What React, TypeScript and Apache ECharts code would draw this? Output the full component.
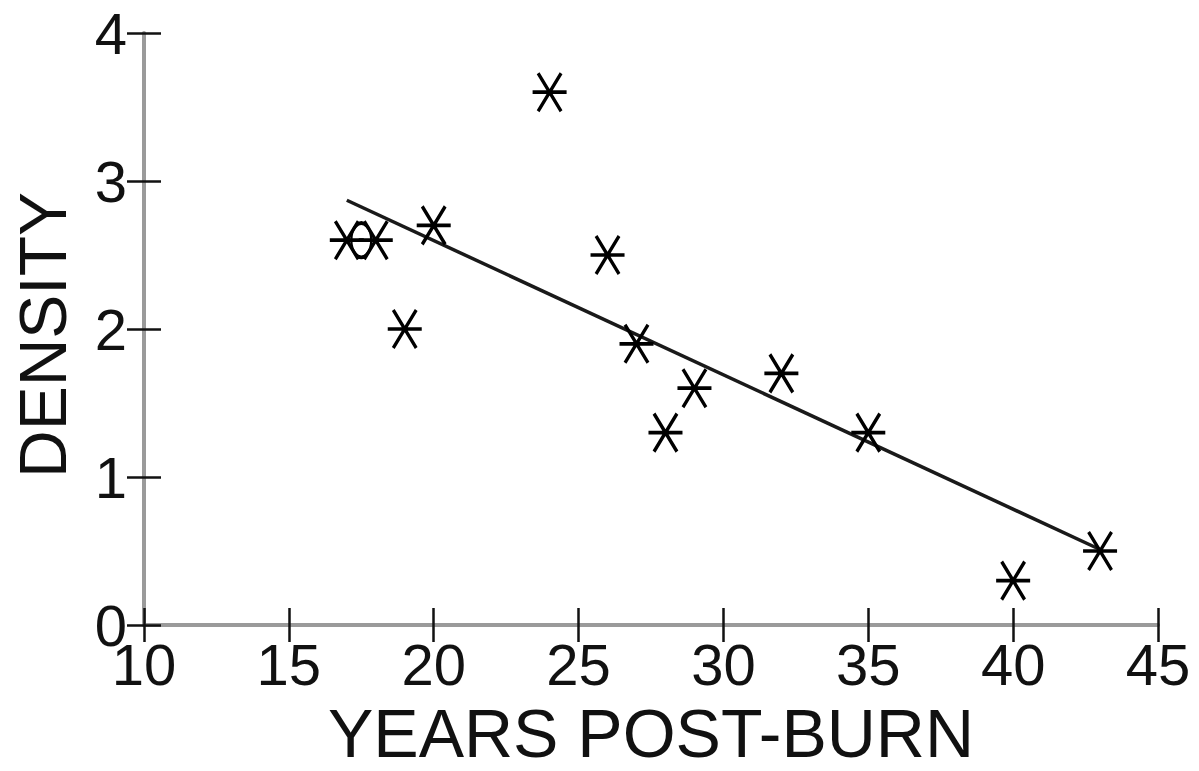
import React, { useEffect, useRef } from "react";
import * as echarts from "echarts";

const years: number[] = [17, 18, 19, 20, 24, 26, 27, 28, 29, 32, 35, 40, 43];
const density: number[] = [2.6, 2.6, 2.0, 2.7, 3.6, 2.5, 1.9, 1.3, 1.6, 1.7, 1.3, 0.3, 0.5];
const circleYears: number[] = [17.5];
const circleDensity: number[] = [2.6];
const fitYears: number[] = [17, 43];
const fitDensity: number[] = [2.87, 0.51];

const xTitle = "YEARS POST-BURN";
const yTitle = "DENSITY";

const STAR = "path://M0,20 L37,20 M6,1 L31,39 M31,1 L6,39";
const FONT = "Liberation Sans";
const INK = "#111";

export default function App() {
  const ref = useRef<HTMLDivElement>(null);
  useEffect(() => {
    if (!ref.current) return;
    const chart = echarts.init(ref.current, undefined, { renderer: "svg" });
    const axisBaseX = {
      type: "value" as const,
      min: 10,
      max: 45,
      interval: 5,
      position: "bottom" as const,
      splitLine: { show: false },
    };
    const axisBaseY = {
      type: "value" as const,
      min: 0,
      max: 4,
      interval: 1,
      position: "left" as const,
      splitLine: { show: false },
    };
    chart.setOption({
      animation: false,
      backgroundColor: "#fff",
      grid: {
        left: 144,
        right: 41,
        top: 33,
        bottom: 146,
        containLabel: false,
        outerBoundsMode: "none",
      },
      xAxis: [
        {
          ...axisBaseX,
          name: xTitle,
          nameLocation: "middle",
          nameGap: 74,
          nameTextStyle: { fontFamily: FONT, fontSize: 68, color: INK },
          axisLine: { show: true, onZero: false, lineStyle: { color: "#9a9a9a", width: 4 } },
          axisTick: { show: true, inside: false, length: 17, lineStyle: { color: INK, width: 2.5 } },
          axisLabel: { show: true, margin: 20, fontFamily: FONT, fontSize: 58, lineHeight: 38, color: INK },
        },
        {
          ...axisBaseX,
          axisLine: { show: false, onZero: false },
          axisTick: { show: true, inside: true, length: 17, lineStyle: { color: INK, width: 2.5 } },
          axisLabel: { show: false },
        },
      ],
      yAxis: [
        {
          ...axisBaseY,
          name: yTitle,
          nameLocation: "middle",
          nameGap: 68,
          nameTextStyle: { fontFamily: FONT, fontSize: 66, color: INK, padding: [0, 12, 0, 0] },
          axisLine: { show: true, onZero: false, lineStyle: { color: "#9a9a9a", width: 4 } },
          axisTick: { show: true, inside: false, length: 17, lineStyle: { color: INK, width: 2.5 } },
          axisLabel: { show: true, margin: 17, fontFamily: FONT, fontSize: 58, lineHeight: 38, color: INK },
        },
        {
          ...axisBaseY,
          axisLine: { show: false, onZero: false },
          axisTick: { show: true, inside: true, length: 17, lineStyle: { color: INK, width: 2.5 } },
          axisLabel: { show: false },
        },
      ],
      series: [
        {
          type: "line",
          xAxisIndex: 0,
          yAxisIndex: 0,
          data: fitYears.map((x, i) => [x, fitDensity[i]]),
          symbol: "none",
          lineStyle: { color: "#1a1a1a", width: 3.5 },
          z: 2,
        },
        {
          type: "scatter",
          xAxisIndex: 0,
          yAxisIndex: 0,
          data: years.map((x, i) => [x, density[i]]),
          symbol: STAR,
          symbolSize: [34, 38],
          itemStyle: { color: "transparent", borderColor: "#000", borderWidth: 3.5, opacity: 1 },
          z: 3,
        },
        {
          type: "scatter",
          xAxisIndex: 0,
          yAxisIndex: 0,
          data: circleYears.map((x, i) => [x, circleDensity[i]]),
          symbol: "circle",
          symbolSize: [20, 34],
          itemStyle: { color: "transparent", borderColor: "#000", borderWidth: 3, opacity: 1 },
          z: 3,
        },
      ],
    });
    return () => chart.dispose();
  }, []);
  return (
    <div
      ref={ref}
      style={{ position: "fixed", left: 0, top: 0, width: 1199, height: 771, background: "#fff" }}
    />
  );
}
